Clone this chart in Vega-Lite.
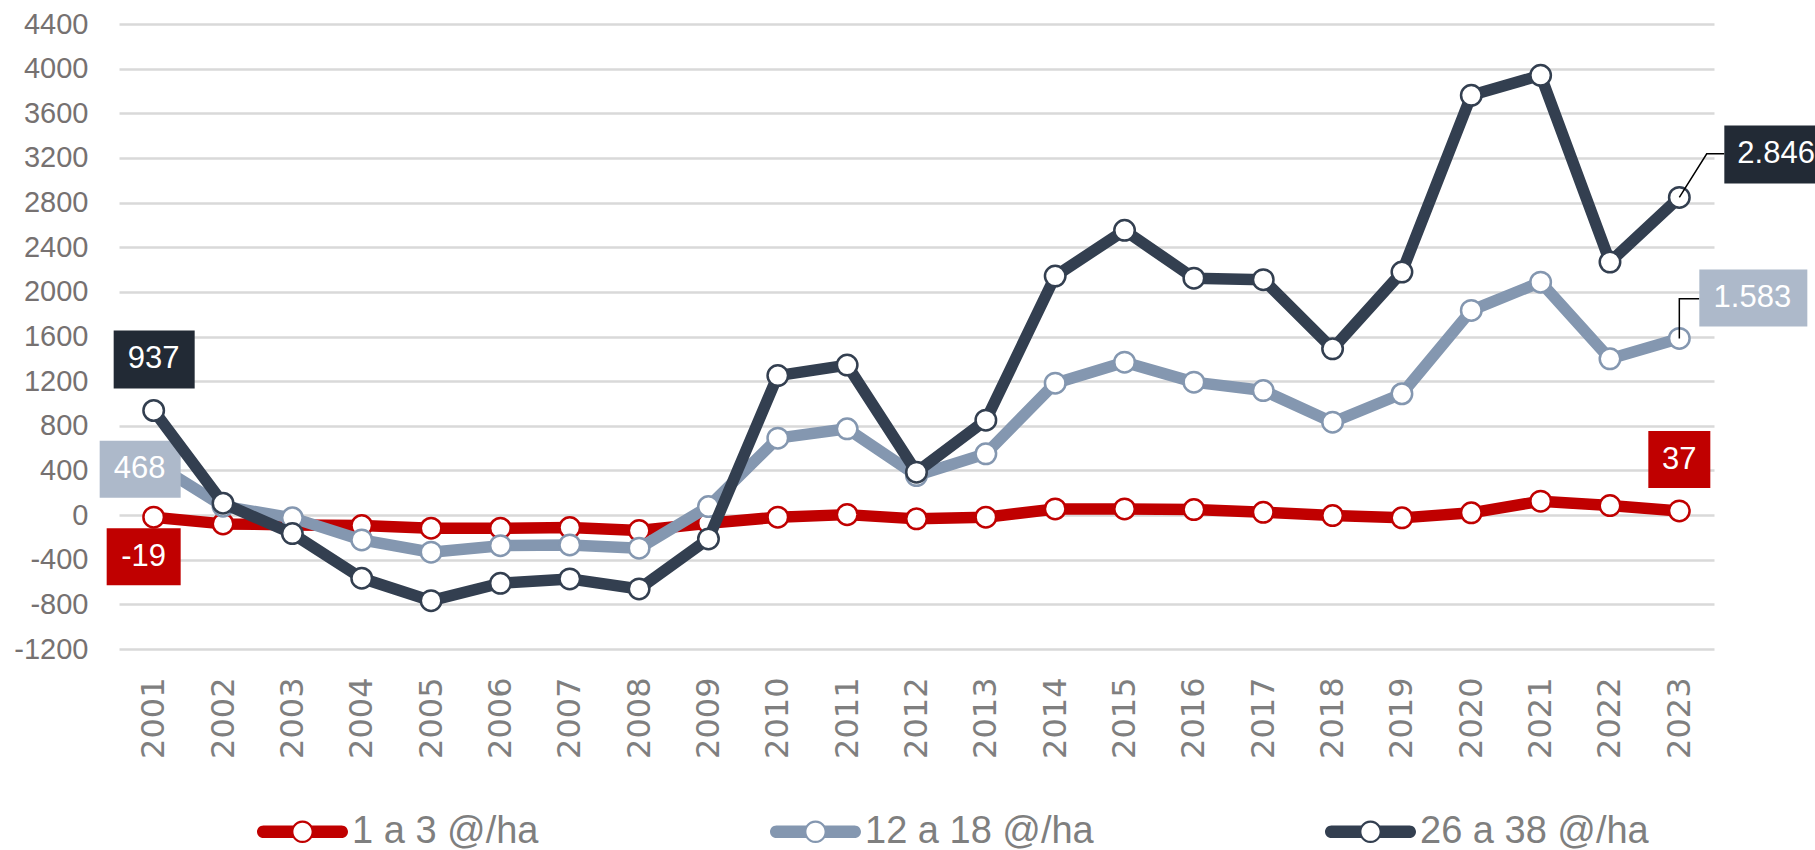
{
  "$schema": "https://vega.github.io/schema/vega-lite/v6.json",
  "autosize": {"type": "none"},
  "width": 1595,
  "height": 625,
  "padding": {"left": 119, "top": 24, "right": 101, "bottom": 201},
  "background": "white",
  "config": {
    "view": {"stroke": null},
    "font": "Liberation Sans",
    "locale": {"number": {"decimal": ",", "thousands": ".", "grouping": [3], "currency": ["R$", ""], "minus": "-"}}
  },
  "data": {
    "values": [
      {"year": "2001", "series": "1 a 3 @/ha", "value": -19},
      {"year": "2002", "series": "1 a 3 @/ha", "value": -79},
      {"year": "2003", "series": "1 a 3 @/ha", "value": -88},
      {"year": "2004", "series": "1 a 3 @/ha", "value": -94},
      {"year": "2005", "series": "1 a 3 @/ha", "value": -118},
      {"year": "2006", "series": "1 a 3 @/ha", "value": -118},
      {"year": "2007", "series": "1 a 3 @/ha", "value": -112},
      {"year": "2008", "series": "1 a 3 @/ha", "value": -139},
      {"year": "2009", "series": "1 a 3 @/ha", "value": -73},
      {"year": "2010", "series": "1 a 3 @/ha", "value": -19},
      {"year": "2011", "series": "1 a 3 @/ha", "value": 4},
      {"year": "2012", "series": "1 a 3 @/ha", "value": -34},
      {"year": "2013", "series": "1 a 3 @/ha", "value": -19},
      {"year": "2014", "series": "1 a 3 @/ha", "value": 55},
      {"year": "2015", "series": "1 a 3 @/ha", "value": 55},
      {"year": "2016", "series": "1 a 3 @/ha", "value": 49},
      {"year": "2017", "series": "1 a 3 @/ha", "value": 25},
      {"year": "2018", "series": "1 a 3 @/ha", "value": -4},
      {"year": "2019", "series": "1 a 3 @/ha", "value": -25},
      {"year": "2020", "series": "1 a 3 @/ha", "value": 20},
      {"year": "2021", "series": "1 a 3 @/ha", "value": 124},
      {"year": "2022", "series": "1 a 3 @/ha", "value": 85},
      {"year": "2023", "series": "1 a 3 @/ha", "value": 37},
      {"year": "2001", "series": "12 a 18 @/ha", "value": 468},
      {"year": "2002", "series": "12 a 18 @/ha", "value": 80},
      {"year": "2003", "series": "12 a 18 @/ha", "value": -25},
      {"year": "2004", "series": "12 a 18 @/ha", "value": -223},
      {"year": "2005", "series": "12 a 18 @/ha", "value": -333},
      {"year": "2006", "series": "12 a 18 @/ha", "value": -274},
      {"year": "2007", "series": "12 a 18 @/ha", "value": -268},
      {"year": "2008", "series": "12 a 18 @/ha", "value": -297},
      {"year": "2009", "series": "12 a 18 @/ha", "value": 76},
      {"year": "2010", "series": "12 a 18 @/ha", "value": 689},
      {"year": "2011", "series": "12 a 18 @/ha", "value": 773},
      {"year": "2012", "series": "12 a 18 @/ha", "value": 354},
      {"year": "2013", "series": "12 a 18 @/ha", "value": 549},
      {"year": "2014", "series": "12 a 18 @/ha", "value": 1182},
      {"year": "2015", "series": "12 a 18 @/ha", "value": 1370},
      {"year": "2016", "series": "12 a 18 @/ha", "value": 1191},
      {"year": "2017", "series": "12 a 18 @/ha", "value": 1116},
      {"year": "2018", "series": "12 a 18 @/ha", "value": 832},
      {"year": "2019", "series": "12 a 18 @/ha", "value": 1087},
      {"year": "2020", "series": "12 a 18 @/ha", "value": 1834},
      {"year": "2021", "series": "12 a 18 @/ha", "value": 2087},
      {"year": "2022", "series": "12 a 18 @/ha", "value": 1400},
      {"year": "2023", "series": "12 a 18 @/ha", "value": 1583},
      {"year": "2001", "series": "26 a 38 @/ha", "value": 937},
      {"year": "2002", "series": "26 a 38 @/ha", "value": 106},
      {"year": "2003", "series": "26 a 38 @/ha", "value": -166},
      {"year": "2004", "series": "26 a 38 @/ha", "value": -566},
      {"year": "2005", "series": "26 a 38 @/ha", "value": -767},
      {"year": "2006", "series": "26 a 38 @/ha", "value": -611},
      {"year": "2007", "series": "26 a 38 @/ha", "value": -572},
      {"year": "2008", "series": "26 a 38 @/ha", "value": -662},
      {"year": "2009", "series": "26 a 38 @/ha", "value": -214},
      {"year": "2010", "series": "26 a 38 @/ha", "value": 1250},
      {"year": "2011", "series": "26 a 38 @/ha", "value": 1344},
      {"year": "2012", "series": "26 a 38 @/ha", "value": 384},
      {"year": "2013", "series": "26 a 38 @/ha", "value": 850},
      {"year": "2014", "series": "26 a 38 @/ha", "value": 2141},
      {"year": "2015", "series": "26 a 38 @/ha", "value": 2551},
      {"year": "2016", "series": "26 a 38 @/ha", "value": 2123},
      {"year": "2017", "series": "26 a 38 @/ha", "value": 2109},
      {"year": "2018", "series": "26 a 38 @/ha", "value": 1490},
      {"year": "2019", "series": "26 a 38 @/ha", "value": 2177},
      {"year": "2020", "series": "26 a 38 @/ha", "value": 3761},
      {"year": "2021", "series": "26 a 38 @/ha", "value": 3940},
      {"year": "2022", "series": "26 a 38 @/ha", "value": 2267},
      {"year": "2023", "series": "26 a 38 @/ha", "value": 2846}
    ]
  },
  "encoding": {
    "x": {
      "field": "year", "type": "ordinal",
      "scale": {"type": "point", "padding": 0.5},
      "axis": {
        "title": null, "labelAngle": -90, "labelFont": "DejaVu Sans", "labelFontSize": 32,
        "labelColor": "#7F7F7F", "labelPadding": 28, "ticks": false, "tickSize": 0, "domain": false, "grid": false
      }
    },
    "y": {
      "field": "value", "type": "quantitative",
      "scale": {"domain": [-1200, 4400], "nice": false, "zero": false},
      "axis": {
        "title": null, "values": [-1200, -800, -400, 0, 400, 800, 1200, 1600, 2000, 2400, 2800, 3200, 3600, 4000, 4400],
        "format": "d", "labelFont": "Liberation Sans", "labelFontSize": 29, "labelColor": "#767171",
        "labelPadding": 31, "ticks": false, "tickSize": 0, "domain": false,
        "grid": true, "gridColor": "#D9D9D9", "gridWidth": 2.5
      }
    }
  },
  "layer": [
    {
      "transform": [{"filter": "datum.series === '1 a 3 @/ha'"}],
      "layer": [
        {
          "mark": {"type": "line", "strokeWidth": 11.5, "strokeJoin": "round", "strokeCap": "round"},
          "encoding": {
            "color": {
              "field": "series", "type": "nominal",
              "scale": {"domain": ["1 a 3 @/ha", "12 a 18 @/ha", "26 a 38 @/ha"], "range": ["#C00000", "#8497B0", "#333F50"]},
              "legend": {
                "title": null, "orient": "none", "legendX": 138, "legendY": 762, "direction": "horizontal",
                "symbolType": "M-0.86,-0.14L-0.207,-0.14A0.25,0.25,0,0,1,0.207,-0.14L0.86,-0.14A0.14,0.14,0,0,1,0.86,0.14L0.207,0.14A0.25,0.25,0,0,1,-0.207,0.14L-0.86,0.14A0.14,0.14,0,0,1,-0.86,-0.14ZM0.2,0A0.2,0.2,0,1,0,-0.2,0A0.2,0.2,0,1,0,0.2,0Z",
                "symbolSize": 8281, "symbolStrokeWidth": 0, "symbolOpacity": 1,
                "labelFont": "Liberation Sans", "labelFontSize": 38, "labelColor": "#7F7F7F", "labelLimit": 500,
                "labelOffset": 4, "columnPadding": 230, "padding": 0,
                "encode": {"symbols": {"update": {"fill": {"scale": "color", "field": "value"}, "stroke": {"value": "transparent"}, "opacity": {"value": 1}}}}
              }
            }
          }
        },
        {
          "mark": {"type": "point", "filled": false, "fill": "white", "size": 420, "strokeWidth": 2.5, "opacity": 1},
          "encoding": {"color": {"field": "series", "type": "nominal"}}
        }
      ]
    },
    {
      "transform": [{"filter": "datum.series === '1 a 3 @/ha' && datum.year === '2001'"}],
      "layer": [
        {"mark": {"type": "point", "shape": "M-47,11H27V68H-47Z", "size": 4, "filled": true, "color": "#C00000", "opacity": 1, "strokeWidth": 0}},
        {"mark": {"type": "text", "color": "white", "fontSize": 31, "dx": -10, "dy": 40, "align": "center", "baseline": "middle"},
         "encoding": {"text": {"field": "value", "format": ",d"}}}
      ]
    },
    {
      "transform": [{"filter": "datum.series === '1 a 3 @/ha' && datum.year === '2023'"}],
      "layer": [
        {"mark": {"type": "point", "shape": "M-31,-80H31V-23H-31Z", "size": 4, "filled": true, "color": "#C00000", "opacity": 1, "strokeWidth": 0}},
        {"mark": {"type": "text", "color": "white", "fontSize": 31, "dx": 0, "dy": -51, "align": "center", "baseline": "middle"},
         "encoding": {"text": {"field": "value", "format": ",d"}}}
      ]
    },
    {
      "transform": [{"filter": "datum.series === '12 a 18 @/ha'"}],
      "layer": [
        {
          "mark": {"type": "line", "strokeWidth": 11.5, "strokeJoin": "round", "strokeCap": "round"},
          "encoding": {"color": {"field": "series", "type": "nominal"}}
        },
        {
          "mark": {"type": "point", "filled": false, "fill": "white", "size": 420, "strokeWidth": 2.5, "opacity": 1},
          "encoding": {"color": {"field": "series", "type": "nominal"}}
        }
      ]
    },
    {
      "transform": [{"filter": "datum.series === '12 a 18 @/ha' && datum.year === '2001'"}],
      "layer": [
        {"mark": {"type": "point", "shape": "M-54,-22H27V35H-54Z", "size": 4, "filled": true, "color": "#ADB9CA", "opacity": 1, "strokeWidth": 0}},
        {"mark": {"type": "text", "color": "white", "fontSize": 31, "dx": -14, "dy": 6.5, "align": "center", "baseline": "middle"},
         "encoding": {"text": {"field": "value", "format": ",d"}}}
      ]
    },
    {
      "transform": [{"filter": "datum.series === '26 a 38 @/ha'"}],
      "layer": [
        {
          "mark": {"type": "line", "strokeWidth": 11.5, "strokeJoin": "round", "strokeCap": "round"},
          "encoding": {"color": {"field": "series", "type": "nominal"}}
        },
        {
          "mark": {"type": "point", "filled": false, "fill": "white", "size": 420, "strokeWidth": 2.5, "opacity": 1},
          "encoding": {"color": {"field": "series", "type": "nominal"}}
        }
      ]
    },
    {
      "transform": [{"filter": "datum.series === '12 a 18 @/ha' && datum.year === '2023'"}],
      "layer": [
        {"mark": {"type": "point", "shape": "M0,0V-39.6H20", "size": 4, "filled": false, "color": "black", "opacity": 1, "strokeWidth": 1.5}},
        {"mark": {"type": "point", "shape": "M20,-69H128V-12H20Z", "size": 4, "filled": true, "color": "#ADB9CA", "opacity": 1, "strokeWidth": 0}},
        {"mark": {"type": "text", "color": "white", "fontSize": 31, "dx": 73, "dy": -40.5, "align": "center", "baseline": "middle"},
         "encoding": {"text": {"field": "value", "format": ",d"}}}
      ]
    },
    {
      "transform": [{"filter": "datum.series === '26 a 38 @/ha' && datum.year === '2001'"}],
      "layer": [
        {"mark": {"type": "point", "shape": "M-40,-80H41V-22H-40Z", "size": 4, "filled": true, "color": "#222A35", "opacity": 1, "strokeWidth": 0}},
        {"mark": {"type": "text", "color": "white", "fontSize": 31, "dx": 0, "dy": -51, "align": "center", "baseline": "middle"},
         "encoding": {"text": {"field": "value", "format": ",d"}}}
      ]
    },
    {
      "transform": [{"filter": "datum.series === '26 a 38 @/ha' && datum.year === '2023'"}],
      "layer": [
        {"mark": {"type": "point", "shape": "M0,0L27.4,-43.7H45", "size": 4, "filled": false, "color": "black", "opacity": 1, "strokeWidth": 1.5}},
        {"mark": {"type": "point", "shape": "M45,-72H150V-14H45Z", "size": 4, "filled": true, "color": "#222A35", "opacity": 1, "strokeWidth": 0}},
        {"mark": {"type": "text", "color": "white", "fontSize": 31, "dx": 58, "dy": -43, "align": "left", "baseline": "middle"},
         "encoding": {"text": {"field": "value", "format": ",d"}}}
      ]
    }
  ]
}
